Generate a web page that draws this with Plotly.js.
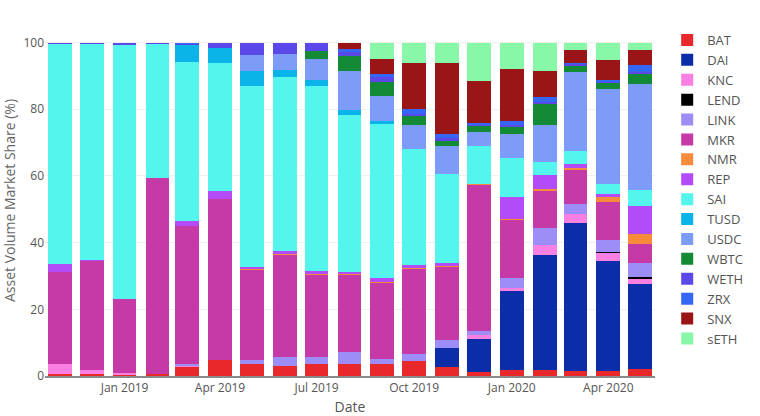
<!DOCTYPE html>
<html>
<head>
<meta charset="utf-8">
<script src="https://cdn.plot.ly/plotly-3.0.1.min.js"></script>
<style>html,body{margin:0;padding:0;background:#fff;}#chart{width:760px;height:416px;}</style>
</head>
<body>
<div id="chart"></div>
<script>
var months = ['2018-11-01','2018-12-01','2019-01-01','2019-02-01','2019-03-01','2019-04-01','2019-05-01','2019-06-01','2019-07-01','2019-08-01','2019-09-01','2019-10-01','2019-11-01','2019-12-01','2020-01-01','2020-02-01','2020-03-01','2020-04-01','2020-05-01'];

var BAT  = [0.7,0.6,0.2,0.5,2.7,4.7,3.5,3.0,3.5,3.5,3.7,4.4,2.7,1.2,1.7,1.9,1.5,1.5,2.2];
var DAI  = [0,0,0,0,0,0,0,0,0,0,0,0,5.7,10.0,23.8,34.3,44.4,33.0,25.3];
var KNC  = [3.0,1.3,0.6,0,0.4,0,0,0,0,0,0,0,0,1.0,1.0,3.0,2.8,2.4,1.5];
var LEND = [0,0,0,0,0,0,0,0,0,0,0,0,0,0,0,0,0,0.3,0.7];
var LINK = [0,0,0,0,0.6,0,1.2,2.7,2.2,3.7,1.5,2.3,2.3,1.2,3.0,5.3,3.0,3.7,4.2];
var MKR  = [27.5,32.6,22.4,59.0,41.3,48.3,27.0,30.6,24.5,23.0,22.8,25.4,22.0,43.8,17.3,11.1,10.2,11.3,5.8];
var NMR  = [0,0,0,0,0,0.2,0.3,0.3,0.3,0.3,0.3,0.3,0.4,0.3,0.4,0.6,0.6,1.5,3.0];
var REP  = [2.3,0.3,0,0,1.4,2.2,0.7,0.9,1.0,0.7,1.1,0.8,0.8,0,6.5,4.0,1.2,1.0,8.2];
var SAI  = [66.0,64.9,76.2,40.2,47.8,38.5,54.2,52.2,55.4,47.2,46.1,35.0,26.8,11.4,11.7,4.1,3.7,2.8,5.0];
var TUSD = [0,0,0,0,5.0,4.6,4.6,2.2,1.8,1.5,0.9,0,0,0,0,0,0,0,0];
var USDC = [0,0,0,0,0,0,4.7,4.6,6.5,11.6,7.6,7.2,8.3,4.3,7.3,10.9,23.8,28.7,31.6];
var WBTC = [0,0,0,0,0,0,0,0,2.3,4.5,4.2,2.5,1.4,1.7,2.0,6.5,1.7,1.7,3.2];
var WETH = [0.5,0.3,0.6,0.3,0.4,1.5,3.8,3.5,2.5,1.1,1.5,0.8,1.1,0.4,0.6,0.5,0.6,0.4,0.5];
var ZRX  = [0,0,0,0,0.4,0,0,0,0,1.1,1.0,1.5,1.0,0.7,1.2,1.5,0.4,0.4,2.0];
var SNX  = [0,0,0,0,0,0,0,0,0,1.8,4.5,13.8,21.4,12.5,15.7,7.7,3.8,6.0,4.7];
var sETH = [0,0,0,0,0,0,0,0,0,0,4.8,6.0,6.1,11.5,7.8,8.6,2.3,5.3,2.1];

var assetNames = ['BAT','DAI','KNC','LEND','LINK','MKR','NMR','REP','SAI','TUSD','USDC','WBTC','WETH','ZRX','SNX','sETH'];
var assetValues = [BAT,DAI,KNC,LEND,LINK,MKR,NMR,REP,SAI,TUSD,USDC,WBTC,WETH,ZRX,SNX,sETH];
var assetColors = ['#E8282B','#0B2EA8','#F97FE3','#000000','#9C8EF6','#C63AA8','#F88A3C','#B44BF8','#53F5EC','#0AB3E8','#7C9CF8','#128A36','#5A48E8','#3566F5','#9A1516','#88F8A8'];

var traces = assetNames.map(function(name, i){
  return {
    type: 'bar',
    name: name,
    x: months,
    y: assetValues[i],
    marker: {color: assetColors[i], line: {width: 0}}
  };
});

var layout = {
  width: 760,
  height: 416,
  barmode: 'stack',
  paper_bgcolor: '#ffffff',
  plot_bgcolor: '#ffffff',
  font: {family: '"Open Sans", verdana, arial, sans-serif', size: 12, color: '#444'},
  margin: {l: 45, r: 93, t: 25, b: 40, pad: 0},
  xaxis: {
    type: 'date',
    title: {text: 'Date', font: {size: 14, color: '#555'}},
    tickformat: '%b %Y',
    dtick: 'M3',
    tick0: '2019-01-01',
    showgrid: false,
    showline: true,
    linecolor: '#8a8a8a',
    linewidth: 1.5,
    ticks: '',
    tickfont: {color: '#555'}
  },
  yaxis: {
    title: {text: 'Asset Volume Market Share (%)', font: {size: 14, color: '#666'}},
    range: [0, 105.26],
    dtick: 20,
    showgrid: true,
    gridcolor: '#f0f0f0',
    zeroline: false,
    tickfont: {color: '#555'}
  },
  legend: {
    traceorder: 'normal',
    font: {size: 13, color: '#555'},
    x: 1.02, y: 1
  },
  showlegend: true
};

Plotly.newPlot('chart', traces, layout, {displayModeBar: false, staticPlot: true});
</script>
</body>
</html>
